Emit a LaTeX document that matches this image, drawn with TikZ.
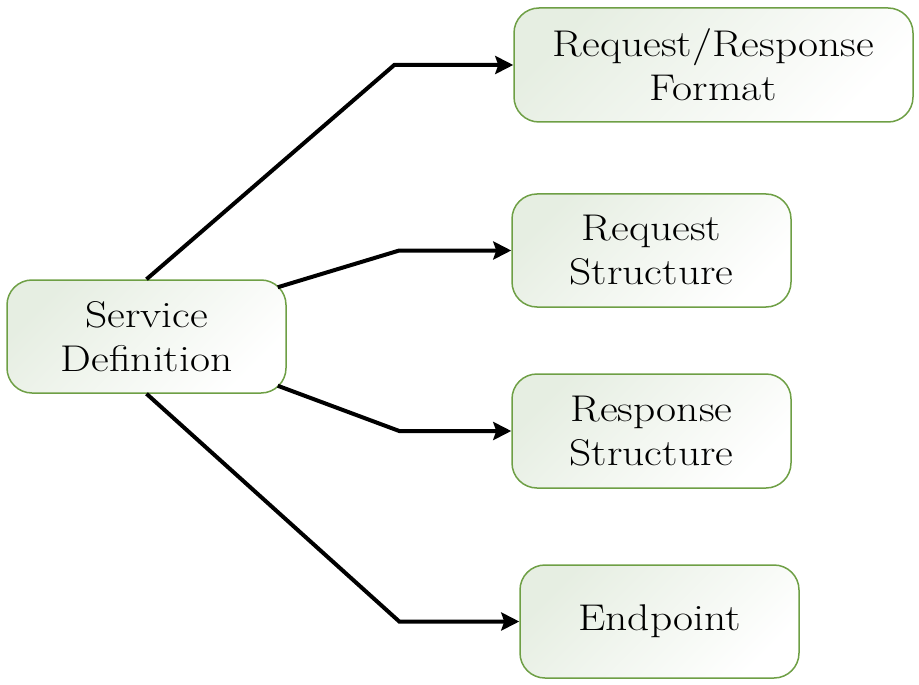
\documentclass[tikz,border=0pt]{standalone}
\usepackage{fontspec}
\setmainfont{Latin Modern Roman}[FakeStretch=1.17]
\usetikzlibrary{arrows.meta}
\definecolor{boxgreen}{HTML}{6E9F45}
\definecolor{boxfill}{HTML}{E6EEE2}
\begin{document}
\begin{tikzpicture}[x=0.5pt,y=-0.5pt]
    \tikzstyle{topic box}=[draw=boxgreen,line width=0.75pt,rounded corners=12.5pt,
        top color=boxfill,bottom color=white,shading angle=45,
        minimum width=139.5pt,minimum height=56.5pt,align=center,
        font=\fontsize{18.6}{22}\selectfont]
    \tikzset{
    link/.style={line width=2pt,-{Stealth[length=9pt,width=9pt,inset=1.5pt]}}
    }
    \useasboundingbox (0,0) rectangle (919,684);
    \node[topic box] (sd) at (146.5,336.5) {Service\\Definition};
    \node[topic box,minimum width=199.5pt,minimum height=57pt] (rrf) at (713.5,65) {Request/Response\\Format};
    \node[topic box] (rqs) at (651.5,250.5) {Request\\Structure};
    \node[topic box,minimum height=57pt] (rss) at (651.5,431) {Response\\Structure};
    \node[topic box] (ep) at (659.5,621.5) {Endpoint};
    \draw[link] (sd.north) -- ([xshift=-59.5pt]rrf.west) -- (rrf.west);
    \draw[link] ([shift={(-9,8)}]sd.north east) -- ([xshift=-56pt]rqs.west) -- (rqs.west);
    \draw[link] ([shift={(-9,-8)}]sd.south east) -- ([xshift=-56pt]rss.west) -- (rss.west);
    \draw[link] (sd.south) -- ([xshift=-60pt]ep.west) -- (ep.west);
\end{tikzpicture}
\end{document}
